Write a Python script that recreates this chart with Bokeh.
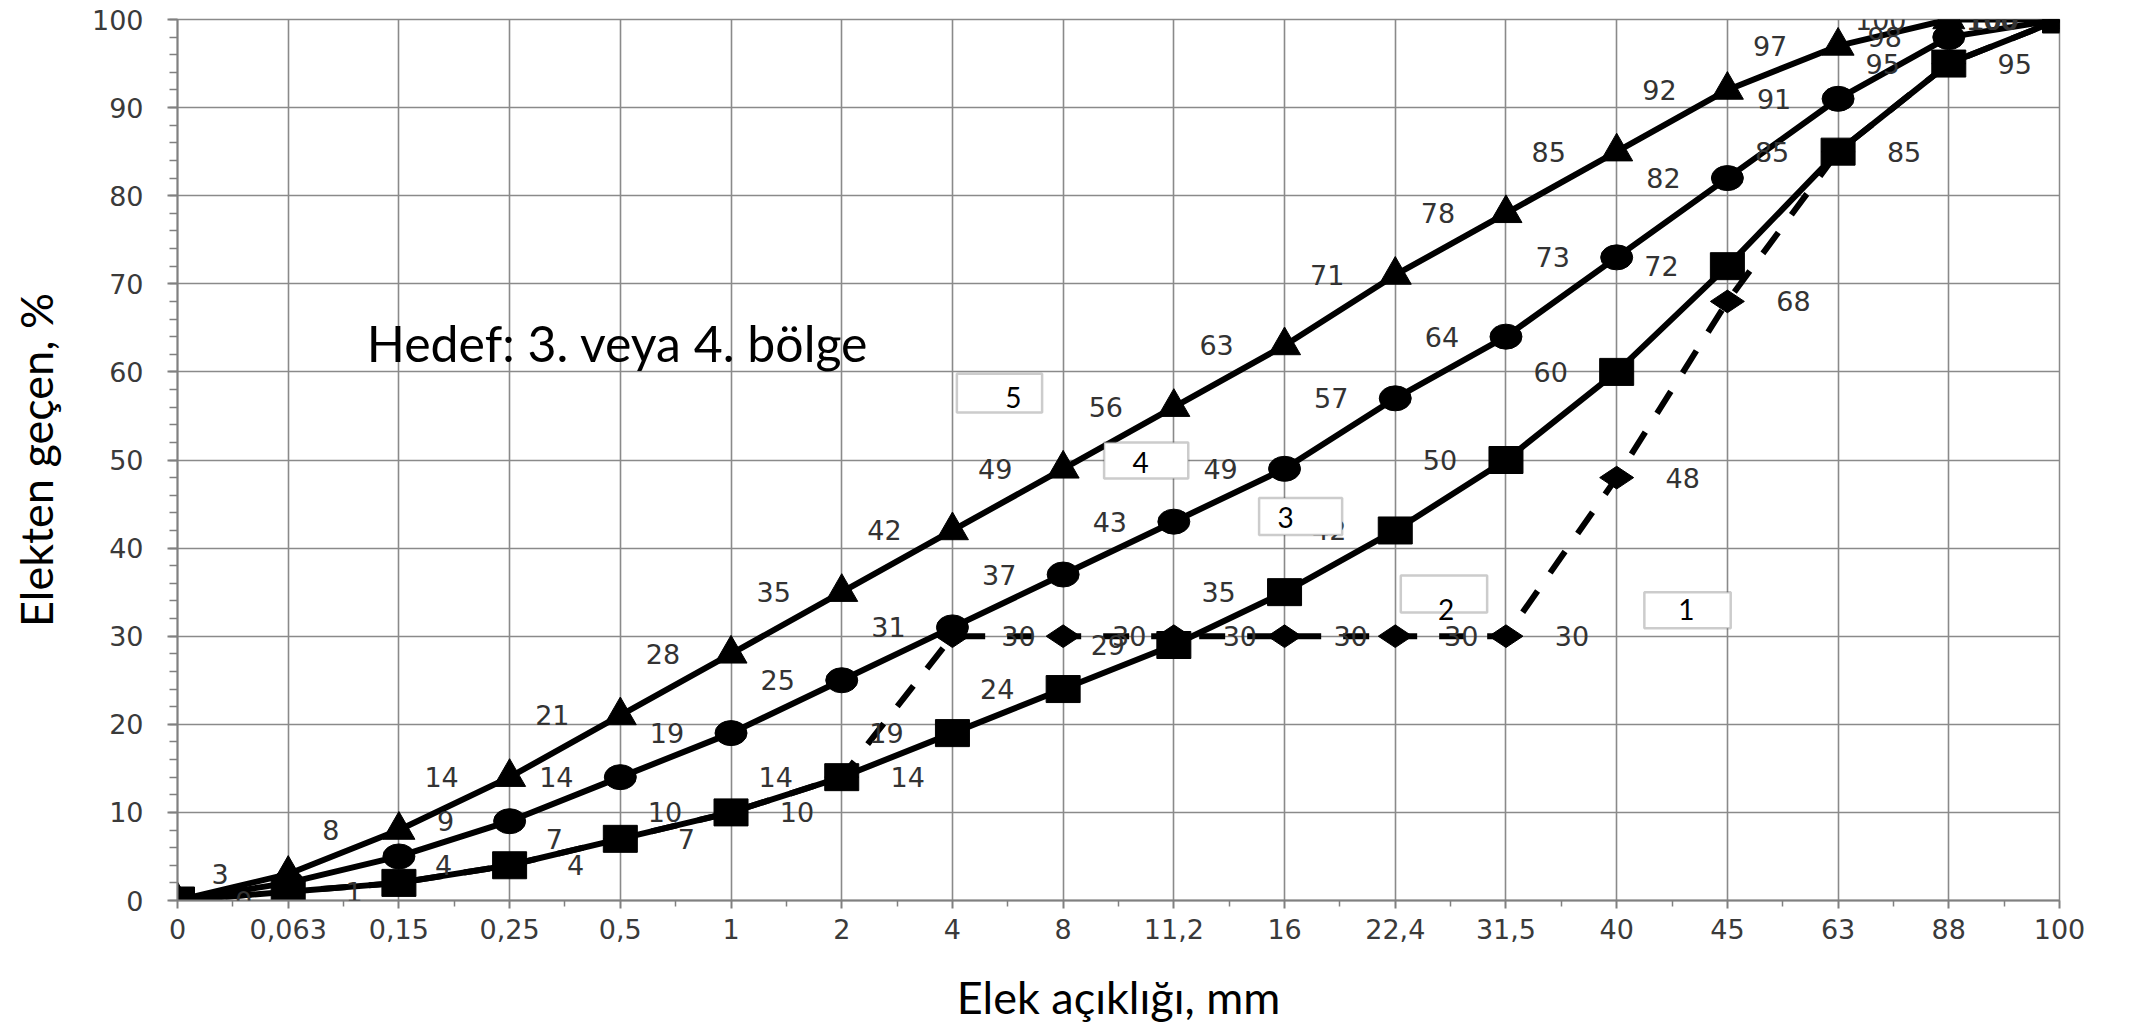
import math
from bokeh.plotting import figure
from bokeh.models import (Range1d, FixedTicker, ColumnDataSource, LabelSet, Label,
                          BoxAnnotation)
from bokeh.core.properties import value
from bokeh.embed import file_html
from bokeh.resources import INLINE

# ---------------- data ----------------
sieve_sizes = ["0", "0,063", "0,15", "0,25", "0,5", "1", "2", "4", "8", "11,2",
               "16", "22,4", "31,5", "40", "45", "63", "88", "100"]
# upper curve (triangles)
curve_tri = [0, 3, 8, 14, 21, 28, 35, 42, 49, 56, 63, 71, 78, 85, 92, 97, 100, 100]
# middle curve (circles)
curve_cir = [0, 2, 5, 9, 14, 19, 25, 31, 37, 43, 49, 57, 64, 73, 82, 91, 98, 100]
# lower curve (squares)
curve_sq = [0, 1, 2, 4, 7, 10, 14, 19, 24, 29, 35, 42, 50, 60, 72, 85, 95, 100]
# gap-graded curve (diamonds, dashed)
curve_dia = [0, 1, 2, 4, 7, 10, 14, 30, 30, 30, 30, 30, 30, 48, 68, 85, 95, 100]

# value labels that are not shown in the original
hide_cir = [0, 1, 2, 17]
hide_sq = [1, 2]
hide_dia = [2]

zone_names = ["1", "2", "3", "4", "5"]
y_ticks = list(range(0, 101, 10))
note_text = "Hedef: 3. veya 4. bölge"
x_title = "Elek açıklığı, mm"
y_title = "Elekten geçen, %"

xs = list(range(len(sieve_sizes)))


def labels(vals, hidden):
    return ["" if i in hidden else str(v) for i, v in enumerate(vals)]


src_tri = ColumnDataSource(dict(x=xs, y=curve_tri, t=labels(curve_tri, [])))
src_cir = ColumnDataSource(dict(x=xs, y=curve_cir, t=labels(curve_cir, hide_cir)))
src_sq = ColumnDataSource(dict(x=xs, y=curve_sq, t=labels(curve_sq, hide_sq)))
src_dia = ColumnDataSource(dict(x=xs, y=curve_dia, t=labels(curve_dia, hide_dia),
                                dx=[66] * (len(xs) - 1) + [30]))

GRID = "#8a8a8a"
TICK_FONT = "DejaVu Sans"
CAL = "Lato"

p = figure(frame_width=1882, frame_height=881,
           min_border_left=177, min_border_right=66, min_border_top=19,
           min_border_bottom=132,
           x_range=Range1d(0, len(sieve_sizes) - 1), y_range=Range1d(0, 100),
           output_backend="svg", toolbar_location=None,
           background_fill_color="white", border_fill_color="white")
p.outline_line_color = GRID
p.outline_line_width = 1.5

# axes
p.xaxis.ticker = FixedTicker(ticks=xs, minor_ticks=[i + 0.5 for i in xs[:-1]])
p.xaxis.major_label_overrides = {i: s for i, s in enumerate(sieve_sizes)}
p.yaxis.ticker = FixedTicker(ticks=y_ticks, minor_ticks=list(range(0, 101, 2)))
for ax in (p.xaxis[0], p.yaxis[0]):
    ax.axis_line_color = "#808080"
    ax.axis_line_width = 2
    ax.major_tick_line_color = "#808080"
    ax.major_tick_line_width = 2
    ax.minor_tick_line_color = "#808080"
    ax.minor_tick_line_width = 1.5
    ax.major_tick_in = 0
    ax.minor_tick_in = 0
    ax.major_label_text_font = TICK_FONT
    ax.major_label_text_font_size = "27px"
    ax.major_label_text_color = "#3a3a3a"
    ax.axis_label_text_font = CAL
    ax.axis_label_text_font_style = "normal"
    ax.axis_label_text_font_size = "45px"
    ax.axis_label_text_color = "black"
p.xaxis.major_tick_out = 8
p.xaxis.minor_tick_out = 6
p.xaxis.major_label_standoff = 10
p.xaxis.axis_label = x_title
p.xaxis.axis_label_standoff = 28
p.yaxis.major_tick_out = 10
p.yaxis.minor_tick_out = 8
p.yaxis.major_label_standoff = 24
p.yaxis.axis_label = y_title
p.yaxis.axis_label_standoff = 26

p.xgrid.ticker = FixedTicker(ticks=xs)
p.ygrid.ticker = FixedTicker(ticks=y_ticks)
for g in (p.xgrid[0], p.ygrid[0]):
    g.grid_line_color = GRID
    g.grid_line_width = 1.6

# lines
p.line("x", "y", source=src_dia, line_color="black", line_width=6, line_dash="26 22")
p.line("x", "y", source=src_tri, line_color="black", line_width=6)
p.line("x", "y", source=src_cir, line_color="black", line_width=6)
p.line("x", "y", source=src_sq, line_color="black", line_width=6)

# markers
p.scatter("x", "y", source=src_dia, marker="diamond", size=34, angle=math.pi / 2,
          fill_color="black", line_color="black")
p.scatter("x", "y", source=src_tri, marker="triangle", size=32,
          fill_color="black", line_color="black")
p.ellipse("x", "y", source=src_cir, width=32, height=25, width_units="screen",
          height_units="screen", fill_color="black", line_color="black")
p.rect("x", "y", source=src_sq, width=34, height=27, width_units="screen",
       height_units="screen", fill_color="black", line_color="black")

# value labels
lab_kw = dict(text_font=value(TICK_FONT), text_font_size=value("27px"),
              text_color="#333333", text_align="center", text_baseline="middle")
p.add_layout(LabelSet(x="x", y="y", text="t", source=src_tri, x_offset=-68, **lab_kw))
p.add_layout(LabelSet(x="x", y="y", text="t", source=src_cir, x_offset=-64, **lab_kw))
p.add_layout(LabelSet(x="x", y="y", text="t", source=src_sq, x_offset=-66, **lab_kw))
p.add_layout(LabelSet(x="x", y="y", text="t", source=src_dia, x_offset="dx", **lab_kw))

# zone boxes (annotation placement)
zone_boxes = [  # left, right, bottom, top, text x, text y
    (13.25, 14.03, 30.9, 35.0, 13.63, 33.0),
    (11.05, 11.83, 32.7, 36.9, 11.46, 33.0),
    (9.77, 10.52, 41.5, 45.7, 10.01, 43.5),
    (8.37, 9.13, 47.9, 52.0, 8.70, 49.7),
    (7.04, 7.81, 55.4, 59.8, 7.55, 57.1),
]
for name, (l, r, b, t, tx, ty) in zip(zone_names, zone_boxes):
    p.add_layout(BoxAnnotation(left=l, right=r, bottom=b, top=t,
                               fill_color="white", fill_alpha=1.0,
                               line_color="#555555", line_width=2.5))
    p.add_layout(Label(x=tx, y=ty, text=name, text_font=CAL, text_font_size="28px",
                       text_color="black", text_align="center",
                       text_baseline="middle"))

p.add_layout(Label(x=1.71, y=63.3, text=note_text, text_font=CAL,
                   text_font_size="50px", text_color="black",
                   text_baseline="alphabetic", text_align="left"))

open("out.html", "w").write(file_html(p, INLINE))
